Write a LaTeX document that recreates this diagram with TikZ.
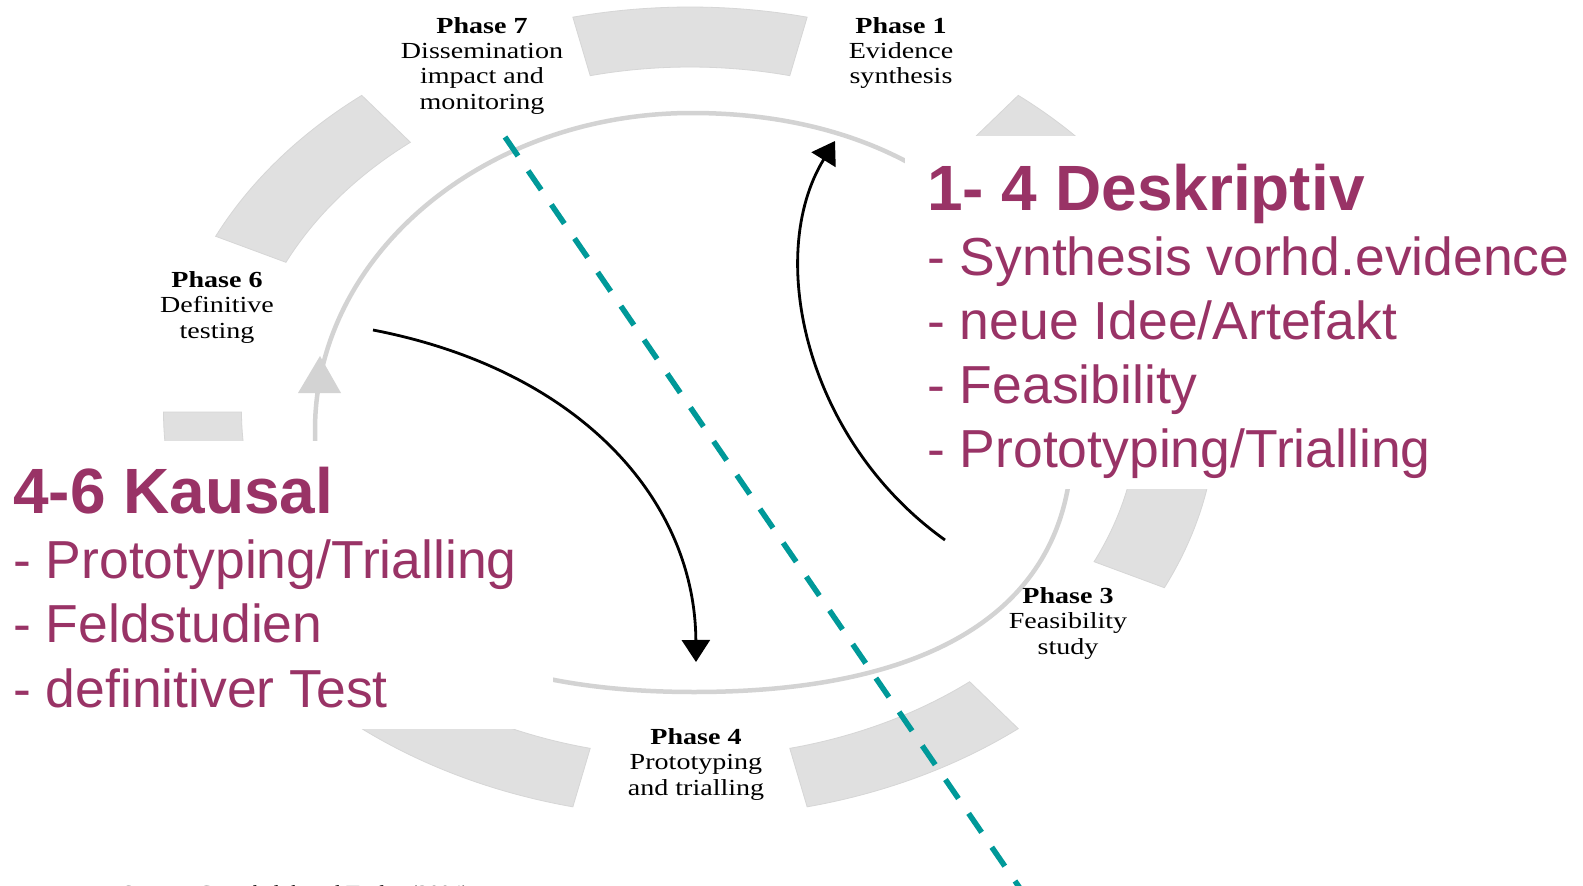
\documentclass[tikz,border=0pt]{standalone}
\usepackage{fontspec}
\usepackage{graphicx}
\setmainfont{Liberation Serif}
\newfontfamily\arialfont{Liberation Sans}
\usetikzlibrary{arrows.meta}
\definecolor{ringgray}{HTML}{E0E0E0}
\definecolor{ringedge}{HTML}{D6D6D6}
\definecolor{linegray}{HTML}{D3D3D3}
\definecolor{purp}{HTML}{993366}
\definecolor{tealdash}{HTML}{009999}
\newcommand{\phaselbl}[2]{\scalebox{1.22}[1]{\begin{tabular}[t]{@{}c@{}}\textbf{#1}\\#2\end{tabular}}}
\tikzset{
  segment/.style={fill=ringgray, draw=ringedge, line width=0.8pt},
  innerring/.style={draw=linegray, line width=4.5pt},
  phase/.style={anchor=base, inner sep=0pt, font=\fontsize{23}{25.5}\selectfont},
  ptitle/.style={anchor=base west, inner sep=0pt, text=purp, font=\arialfont\bfseries\fontsize{64}{70}\selectfont},
  pitem/.style={anchor=base west, inner sep=0pt, text=purp, font=\arialfont\fontsize{53.5}{60}\selectfont},
  bigarrow/.style={black, line width=2.8pt, -{Triangle[length=22pt,width=28pt]}},
  tealline/.style={tealdash, line width=5.5pt, dash pattern=on 23pt off 18pt},
  srcnote/.style={anchor=base west, inner sep=0pt, font=\fontsize{20}{24}\selectfont}
}
\begin{document}
\begin{tikzpicture}[x=1pt,y=-1pt]
\clip (0,0) rectangle (1583,886);
\fill[white] (0,0) rectangle (1583,886);
% outer ring of seven segments
\begin{scope}[shift={(690,412)}, xscale=1.3, yscale=-1]
  \foreach \k in {0,...,6} {
    \pgfmathsetmacro\aa{90+\k*360/7-360/28}
    \pgfmathsetmacro\bb{\aa+360/14}
    \path[segment] (\aa:405) arc[start angle=\aa, end angle=\bb, radius=405]
      -- (\bb:345) arc[start angle=\bb, end angle=\aa, radius=345] -- cycle;
  }
\end{scope}
% inner cycle
\draw[innerring] (315,430) .. controls (315,255) and (484,113) .. (692,113)
  .. controls (920,113) and (1072,244) .. (1072,440)
  .. controls (1072,604) and (940,692) .. (694,692)
  .. controls (448,692) and (315,600) .. cycle;
\fill[linegray] (320,356) -- (298,393) -- (341,393) -- cycle;
% phase labels
\node[phase] (p7) at (482,33) {\phaselbl{Phase 7}{Dissemination\\impact and\\monitoring}};
\node[phase] (p1) at (901,33) {\phaselbl{Phase 1}{Evidence\\synthesis}};
\node[phase] (p6) at (217,287) {\phaselbl{Phase 6}{Definitive\\testing}};
\node[phase] (p4) at (696,744) {\phaselbl{Phase 4}{Prototyping\\and trialling}};
\node[phase] (p3) at (1068,603) {\phaselbl{Phase 3}{Feasibility\\study}};
\node[srcnote] (src) at (122,899) {\scalebox{1.12}[1]{Source: Greenhalgh and Taylor (2004)}};
% white text panels
\fill[white] (905,136) rectangle (1583,489);
\fill[white] (0,441) rectangle (553,729);
% right text block
\node[ptitle] (t1) at (927,210) {1- 4 Deskriptiv};
\node[pitem] (r1) at (927,275) {- Synthesis vorhd.evidence};
\node[pitem] (r2) at (927,339) {- neue Idee/Artefakt};
\node[pitem] (r3) at (927,403) {- Feasibility};
\node[pitem] (r4) at (927,467) {- Prototyping/Trialling};
% left text block
\node[ptitle] (t2) at (13,513) {4-6 Kausal};
\node[pitem] (l1) at (13,578) {- Prototyping/Trialling};
\node[pitem] (l2) at (13,642) {- Feldstudien};
\node[pitem] (l3) at (13,707) {- definitiver Test};
% arrows
\coordinate (ra0) at (945,540);
\coordinate (ra1) at (835,141);
\coordinate (la0) at (373,330);
\coordinate (la1) at (696,662);
\draw[bigarrow] (ra0) .. controls (805,440) and (765,255) .. (ra1);
\draw[bigarrow] (la0) .. controls (580,370) and (695,500) .. (la1);
% dashed divider
\coordinate (dA) at (505,137);
\coordinate (dB) at (1028,900);
\draw[tealline] (dA) -- (dB);
\end{tikzpicture}
\end{document}
